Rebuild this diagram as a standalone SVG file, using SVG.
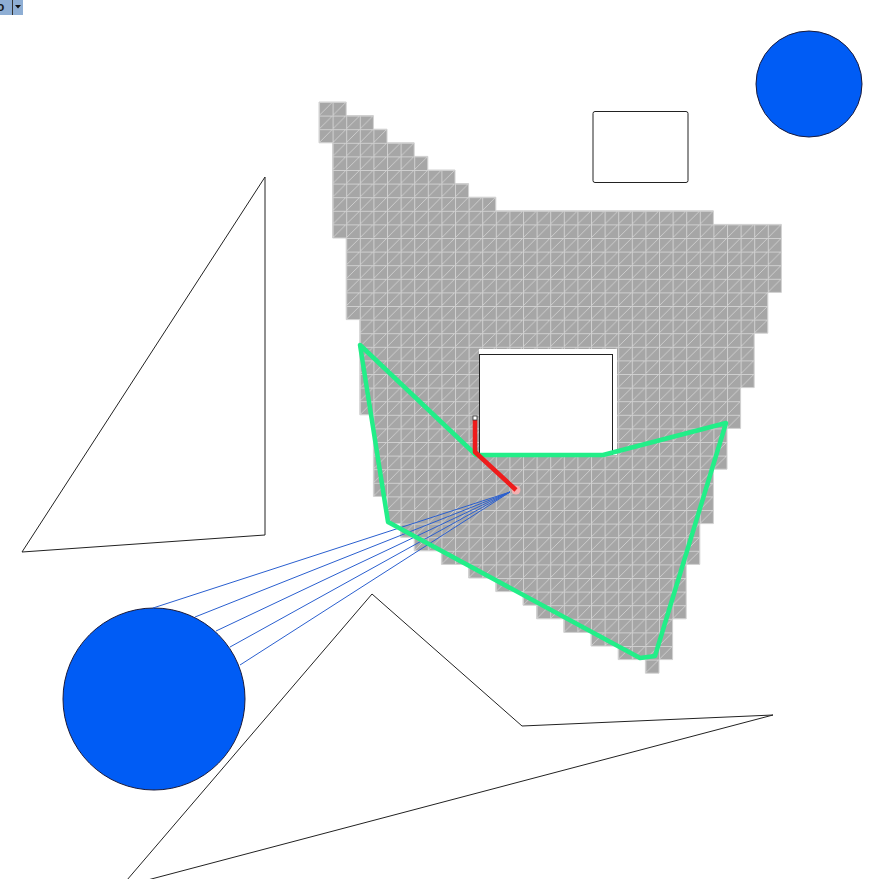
<svg xmlns="http://www.w3.org/2000/svg" width="880" height="879" viewBox="0 0 880 879">
  <defs>
    <pattern id="cell" patternUnits="userSpaceOnUse" x="319" y="102" width="13.6" height="13.6">
      <rect x="0" y="0" width="13.6" height="13.6" fill="#a6a6a6"/>
      <line x1="0" y1="13.6" x2="13.6" y2="0" stroke="#d6d6d6" stroke-width="0.8"/>
      <line x1="0.5" y1="0" x2="0.5" y2="13.6" stroke="#d0d0d0" stroke-width="1"/>
      <line x1="0" y1="0.5" x2="13.6" y2="0.5" stroke="#d0d0d0" stroke-width="1"/>
    </pattern>
    <style>
      .outline { fill: none; stroke: #222; stroke-width: 1; }
      .disc { fill: #005cf5; stroke: #1a1a3a; stroke-width: 1; }
      .ray { stroke: #2a5fcf; stroke-width: 1; fill: none; }
    </style>
  </defs>
  <rect width="880" height="879" fill="#ffffff"/>

  <g id="toolbar">
    <rect x="0" y="0" width="23" height="15" fill="#8eaed4"/>
    <text x="-3" y="11" font-family="Liberation Sans, Arial, sans-serif" font-size="12" font-weight="bold" fill="#1a1a1a">o</text>
    <line x1="12.5" y1="0" x2="12.5" y2="15" stroke="#333" stroke-width="1"/>
    <polygon points="15,5 21,5 18,8.5" fill="#111"/>
  </g>

  <g id="grid">
    <path d="M319,102 H346.2 V115.6 H373.4 V129.2 H387 V142.8 H414.2 V156.4 H427.8 V170 H455 V183.6 H468.6 V197.2 H495.8 V210.8 H713.4 V224.4 H781.4 V292.4 H767.8 V333.2 H754.2 V387.6 H740.6 V428.4 H727 V469.2 H713.4 V523.6 H699.8 V564.4 H686.2 V618.8 H672.6 V659.6 H659 V673.2 H645.4 V659.6 H618.2 V646 H591 V632.4 H563.8 V618.8 H536.6 V605.2 H523 V591.6 H495.8 V578 H468.6 V564.4 H441.4 V550.8 H414.2 V537.2 H400.6 V523.6 H387 V496.4 H373.4 V414.8 H359.8 V319.6 H346.2 V238 H332.6 V142.8 H319 Z" fill="url(#cell)" stroke="#d0d0d0" stroke-width="1"/>
    <rect id="hole" x="479" y="349" width="138" height="106" fill="#ffffff"/>
  </g>

  <g id="rect-top">
    <rect x="593" y="111.5" width="95" height="71" rx="2" fill="#ffffff" class="outline"/>
  </g>

  <g id="circle-top">
    <circle cx="809" cy="84" r="53" class="disc"/>
  </g>

  <g id="triangle-left">
    <polygon points="265,177 265,535 22,552" class="outline"/>
  </g>

  <g id="polygon-bottom">
    <polygon points="372,594 522,726 773,715 121,887" class="outline"/>
  </g>

  <g id="rect-inner">
    <rect x="479.5" y="354.5" width="133" height="100" class="outline"/>
  </g>

  <g id="circle-bottom">
    <circle cx="154" cy="699" r="91" class="disc"/>
  </g>

  <g id="connectors">
    <g id="rays">
      <line x1="510" y1="492" x2="153" y2="608" class="ray"/>
      <line x1="510" y1="492" x2="195" y2="617" class="ray"/>
      <line x1="510" y1="492" x2="216" y2="631" class="ray"/>
      <line x1="510" y1="492" x2="230" y2="647" class="ray"/>
      <line x1="510" y1="492" x2="240" y2="665" class="ray"/>
    </g>
    <polygon id="green-path" points="360,345 476,455 603,455 726,423 655,656 640,658 388,522" fill="none" stroke="#22ee88" stroke-width="4.5" stroke-linejoin="round"/>
    <circle cx="516" cy="490" r="4.5" fill="#f4b0b0"/>
    <polyline id="red-path" points="475,420 475,452 516,490" fill="none" stroke="#ee1c1c" stroke-width="4.5" stroke-linejoin="round"/>
    <rect x="473" y="416" width="4" height="4" fill="#ffffff" stroke="#333" stroke-width="0.8"/>
  </g>
</svg>
